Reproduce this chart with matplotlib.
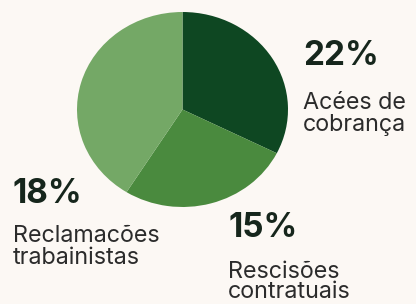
import matplotlib.pyplot as plt

# wedge shares as drawn in the picture (they do not follow the printed %)
categories = ["Acées de\ncobrança", "Rescisões\ncontratuais", "Reclamacões\ntrabainistas"]
wedge_share = [32.4, 26.5, 41.1]
pct_labels = ["22%", "15%", "18%"]
colors = ["#0e4722", "#4a8a3e", "#74a866"]

bg = "#fcf8f4"
plt.rcParams['font.family'] = ['Inter', 'DejaVu Sans']

fig = plt.figure(figsize=(4.16, 3.04), dpi=100, facecolor=bg)
W, H = 416, 304

# pie is a bit wider than tall in the reference
cx, cy, rx, ry = 182.5, 109.5, 105.5, 97.5
ax = fig.add_axes([(cx - rx) / W, (H - cy - ry) / H, 2 * rx / W, 2 * ry / H])
ax.pie(wedge_share, colors=colors, startangle=90, counterclock=False,
       wedgeprops=dict(linewidth=0))
ax.set_aspect('auto')
ax.set_xlim(-1, 1)
ax.set_ylim(-1, 1)
ax.axis('off')

# text: (x, top of percent, top of label, line spacing) in pixels
spots = [(303, 40, 92, 0.98), (228, 212, 261, 0.9), (13, 178, 225, 0.98)]
for (x, ytop, ylab, ls), pct, lab in zip(spots, pct_labels, categories):
    fig.text(x / W, 1 - ytop / H, pct, fontsize=24, fontweight='bold',
             color="#16261c", ha='left', va='top')
    fig.text(x / W, 1 - ylab / H, lab, fontsize=16.8, color="#2b2b2b",
             ha='left', va='top', linespacing=ls)

fig.savefig("out.png", dpi=100, facecolor=bg)
